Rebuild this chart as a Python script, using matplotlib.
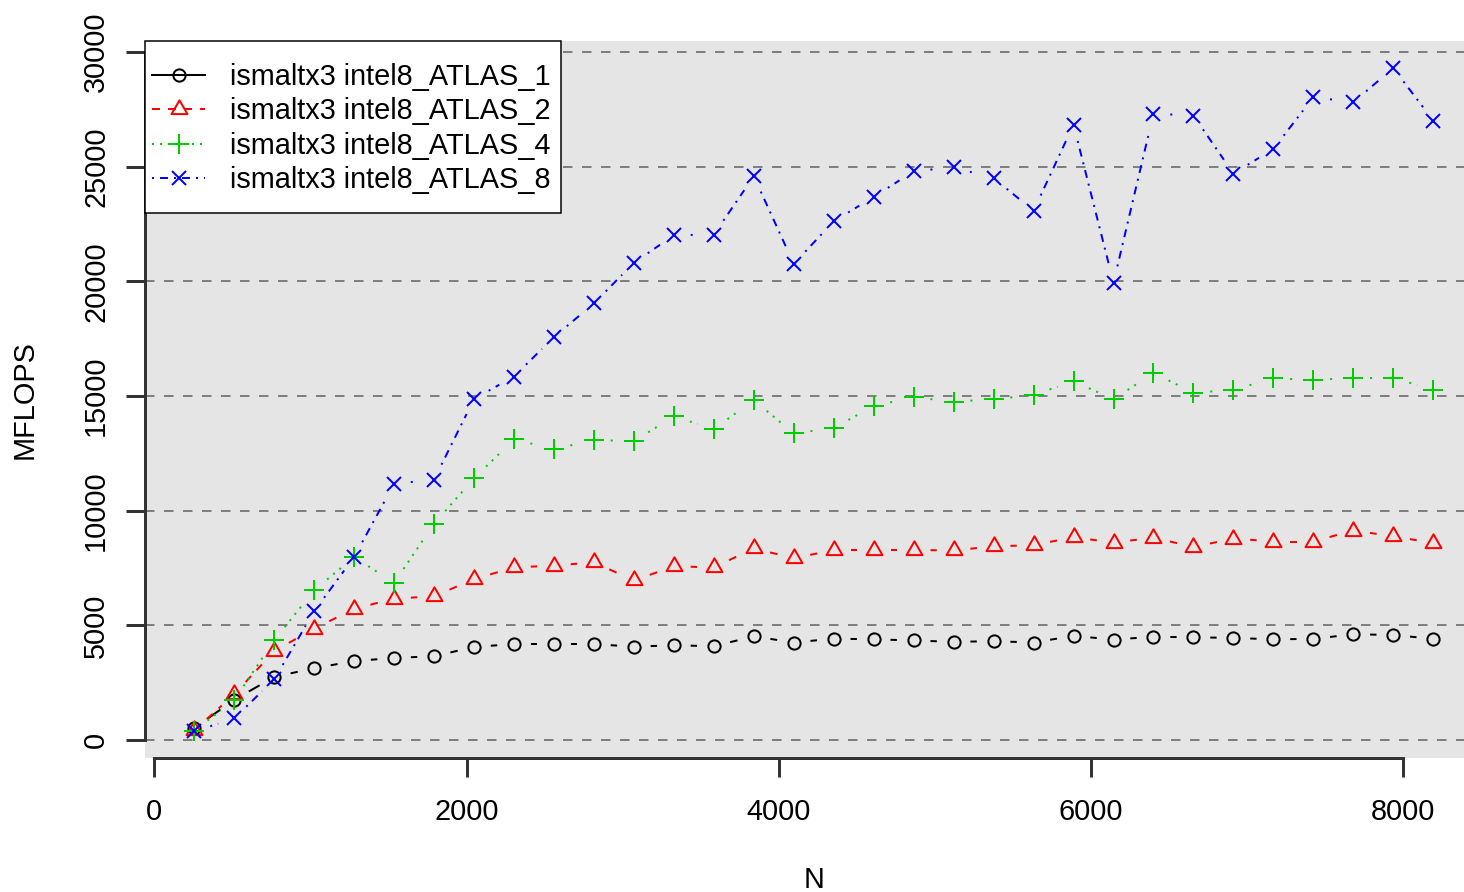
import numpy as np
import matplotlib
matplotlib.use("Agg")
import matplotlib.pyplot as plt
from matplotlib.collections import LineCollection
from matplotlib.lines import Line2D
from matplotlib.patches import Rectangle
from matplotlib.path import Path

plt.rcParams['font.family'] = ['Liberation Sans', 'DejaVu Sans']
plt.rcParams['lines.scale_dashes'] = False

# ---------------- data ----------------
N = [256, 512, 768, 1024, 1280, 1536, 1792, 2048, 2304, 2560, 2816, 3072,
     3328, 3584, 3840, 4096, 4352, 4608, 4864, 5120, 5376, 5632, 5888, 6144,
     6400, 6656, 6912, 7168, 7424, 7680, 7936, 8192]

atlas_1 = [520, 1750, 2750, 3130, 3440, 3580, 3650, 4060, 4180, 4180, 4180, 4070,
           4130, 4090, 4520, 4250, 4420, 4390, 4340, 4280, 4310, 4250, 4540, 4380,
           4500, 4480, 4450, 4390, 4410, 4610, 4580, 4410]
atlas_2 = [420, 1990, 3875, 4855, 5715, 6165, 6265, 7015, 7525, 7605, 7745, 6955,
           7575, 7525, 8355, 7925, 8285, 8285, 8285, 8265, 8445, 8495, 8845, 8605,
           8825, 8415, 8785, 8655, 8655, 9135, 8885, 8585]
atlas_4 = [400, 1740, 4350, 6530, 7980, 6850, 9430, 11410, 13110, 12680, 13080, 13030,
           14110, 13560, 14820, 13370, 13600, 14570, 14940, 14760, 14850, 15050, 15640, 14860,
           16000, 15150, 15260, 15780, 15690, 15800, 15800, 15260]
atlas_8 = [373, 940, 2640, 5610, 7980, 11170, 11350, 14870, 15850, 17570, 19040, 20810,
           22010, 22040, 24580, 20760, 22620, 23680, 24800, 24970, 24500, 23080, 26830, 19940,
           27310, 27230, 24700, 25770, 28030, 27810, 29300, 27010]

labels = ["ismaltx3 intel8_ATLAS_1", "ismaltx3 intel8_ATLAS_2",
          "ismaltx3 intel8_ATLAS_4", "ismaltx3 intel8_ATLAS_8"]
xticks = [0, 2000, 4000, 6000, 8000]
yticks = [0, 5000, 10000, 15000, 20000, 25000, 30000]

# ---------------- styles ----------------
W, H = 1464, 892
PT = 72 / 100.0  # points per pixel at dpi 100
FS = 20.75
tri = Path([(0, 1.555), (1.347, -0.778), (-1.347, -0.778), (0, 1.555)],
           [Path.MOVETO, Path.LINETO, Path.LINETO, Path.CLOSEPOLY])
styles = [
    dict(color='#000000', ls='solid', marker='o', ms=8.8),
    dict(color='#FF0000', ls=(0, (8 * PT, 8 * PT)), marker=tri, ms=13.25),
    dict(color='#00CD00', ls=(0, (2 * PT, 6 * PT)), marker='+', ms=14),
    dict(color='#0000FF', ls=(0, (2 * PT, 6 * PT, 8 * PT, 6 * PT)), marker='x', ms=10.5),
]
series = [atlas_1, atlas_2, atlas_4, atlas_8]
LW = 2 * PT
GAP = 16.8  # px gap around points (type = "b")

fig = plt.figure(figsize=(W / 100, H / 100), dpi=100)
left_px, right_px, top_px, bot_px = 144.7, 1482.8, 41, 758
ax = fig.add_axes([left_px / W, 1 - bot_px / H, (right_px - left_px) / W, (bot_px - top_px) / H])
ax.set_xlim(-61.4, 8509.4)
ax.set_ylim(-785, 30480)
ax.set_facecolor('#E5E5E5')

for v in yticks:
    ax.axhline(v, color='#7F7F7F', lw=2 * PT, ls=(0, (9.5 * PT, 9.5 * PT)), zorder=1)


def gapped(xs, ys):
    pts = ax.transData.transform(np.column_stack([xs, ys]))
    inv = ax.transData.inverted()
    segs = []
    for p0, p1 in zip(pts[:-1], pts[1:]):
        d = np.hypot(*(p1 - p0))
        if d > 2 * GAP:
            f = GAP / d
            a = p0 + f * (p1 - p0)
            b = p1 - f * (p1 - p0)
            segs.append(inv.transform(np.array([a, b])))
    return segs


handles = []
for i, (vals, st, lab) in enumerate(zip(series, styles, labels)):
    z = 3 + i
    lc = LineCollection(gapped(N, vals), colors=st['color'], linewidths=LW,
                        linestyles=[st['ls']], zorder=z, capstyle='butt')
    ax.add_collection(lc)
    ax.plot(N, vals, ls='none', marker=st['marker'], ms=st['ms'], mec=st['color'],
            mfc='none', mew=2 * PT, zorder=z)
    handles.append(Line2D([], [], color=st['color'], ls=st['ls'], lw=LW,
                          marker=st['marker'], ms=st['ms'], mec=st['color'],
                          mfc='none', mew=2 * PT, label=lab))

# axes decoration
for s in ['top', 'right']:
    ax.spines[s].set_visible(False)
ax.spines['left'].set_bounds(0, 30000)
ax.spines['bottom'].set_bounds(0, 8000)
for s in ['left', 'bottom']:
    ax.spines[s].set_linewidth(3 * PT)
    ax.spines[s].set_color('#333333')
ax.set_xticks(xticks)
ax.set_xticklabels([str(t) for t in xticks])
ax.set_yticks(yticks)
ax.set_yticklabels([str(t) for t in yticks], rotation=90, va='center')
ax.tick_params(axis='both', direction='out', length=18.7 * PT, width=3 * PT,
               color='#333333', labelsize=FS, labelcolor='black')
ax.tick_params(axis='x', pad=21 * PT)
ax.tick_params(axis='y', pad=16 * PT)

ax.set_xlabel('N', fontsize=FS)
ax.set_ylabel('MFLOPS', fontsize=FS)
axw = right_px - left_px
axh = bot_px - top_px
ax.xaxis.set_label_coords((814 - left_px) / axw, (bot_px - 866) / axh)
ax.yaxis.set_label_coords((39 - left_px) / axw, 0.5)

# legend
frame = Rectangle((145 / W, 1 - 213 / H), 416 / W, 172 / H, transform=fig.transFigure,
                  facecolor='white', edgecolor='black', lw=1.5 * PT, zorder=8, clip_on=False)
ax.add_patch(frame)
leg = ax.legend(handles=handles, loc='upper left', bbox_to_anchor=(152 / W, 1 - 63 / H),
                bbox_transform=fig.transFigure, frameon=False, borderpad=0, borderaxespad=0,
                fontsize=FS, handlelength=1.84, handletextpad=0.86, labelspacing=0.22,
                numpoints=1)
leg.set_zorder(9)

fig.savefig('out.png', dpi=100)
